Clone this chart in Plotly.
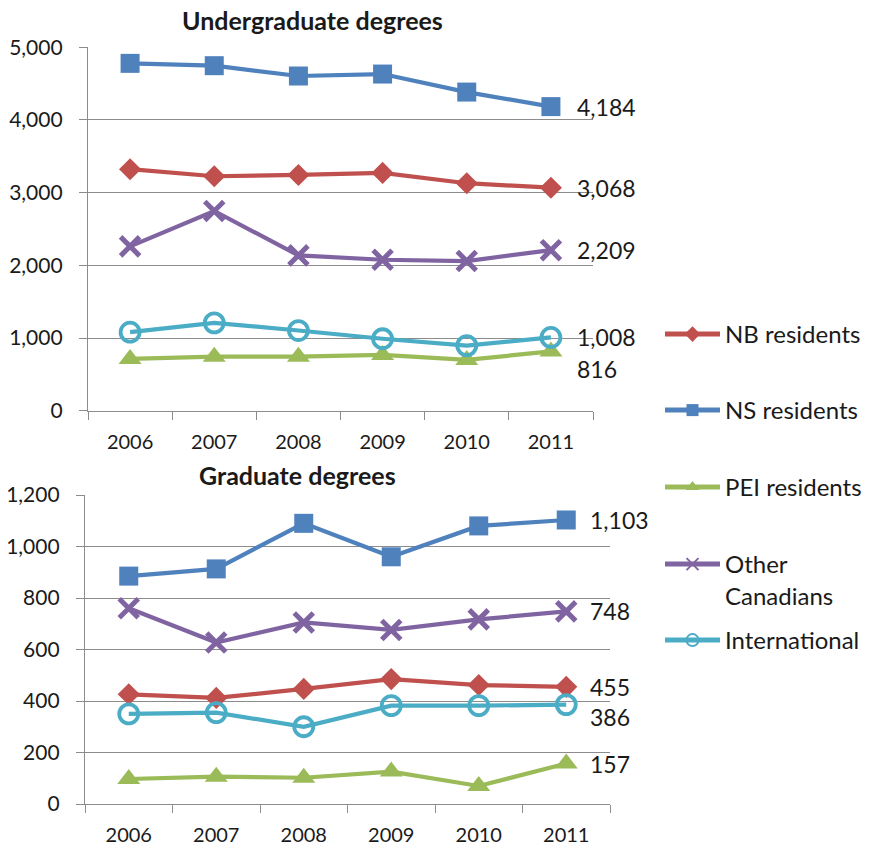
import plotly.graph_objects as go

years = ["2006", "2007", "2008", "2009", "2010", "2011"]

series_names = ["NB residents", "NS residents", "PEI residents", "Other<br>Canadians", "International"]

ug_nb = [3323, 3226, 3244, 3272, 3130, 3068]
ug_ns = [4779, 4747, 4605, 4632, 4384, 4184]
ug_pei = [712, 744, 744, 767, 699, 816]
ug_other = [2261, 2748, 2137, 2077, 2059, 2209]
ug_intl = [1080, 1209, 1103, 990, 896, 1008]

gr_nb = [426, 412, 447, 485, 462, 455]
gr_ns = [885, 913, 1090, 960, 1080, 1103]
gr_pei = [97, 106, 102, 126, 70, 157]
gr_other = [760, 627, 705, 676, 717, 748]
gr_intl = [350, 355, 300, 382, 382, 386]

ug_labels = ["3,068", "4,184", "816", "2,209", "1,008"]
gr_labels = ["455", "1,103", "157", "748", "386"]

colors = ["#C0504D", "#4F81BD", "#9BBB59", "#8064A2", "#4BACC6"]
symbols = ["diamond", "square", "triangle-up", "x-thin", "circle-open"]
sizes = [17, 19, 20, 19, 19]

W, H = 884, 846
FONT = "Lato"
TXT = "#1a1a1a"
GRID = "#8c8c8c"

fig = go.Figure()

ug = [ug_nb, ug_ns, ug_pei, ug_other, ug_intl]
gr = [gr_nb, gr_ns, gr_pei, gr_other, gr_intl]
legend_ids = ["legend", "legend2", "legend3", "legend4", "legend5"]


def marker(i):
    mk = dict(symbol=symbols[i], size=sizes[i], color=colors[i])
    if symbols[i] == "x-thin":
        mk["line"] = dict(color=colors[i], width=5)
    elif symbols[i] == "circle-open":
        mk["line"] = dict(color=colors[i], width=3.8)
    return mk


for i in range(5):
    fig.add_trace(go.Scatter(
        x=years, y=ug[i], name=series_names[i], mode="lines+markers",
        line=dict(color=colors[i], width=4.2), marker=marker(i),
        xaxis="x", yaxis="y", legend=legend_ids[i], showlegend=True,
        cliponaxis=False))
for i in range(5):
    fig.add_trace(go.Scatter(
        x=years, y=gr[i], name=series_names[i], mode="lines+markers",
        line=dict(color=colors[i], width=4.2), marker=marker(i),
        xaxis="x2", yaxis="y2", showlegend=False, cliponaxis=False))

# end labels (anchored at the last category, by index)
last = len(years) - 1
ug_yshift = [0, 0, -18, 0, 0]
gr_yshift = [0, 0, 0, 0, -12]
for i in range(5):
    fig.add_annotation(x=last, y=ug[i][-1], xref="x", yref="y",
                       text=ug_labels[i], showarrow=False, xanchor="left",
                       yanchor="middle", xshift=24, yshift=ug_yshift[i],
                       font=dict(family=FONT, size=23, color=TXT))
    fig.add_annotation(x=last, y=gr[i][-1], xref="x2", yref="y2",
                       text=gr_labels[i], showarrow=False, xanchor="left",
                       yanchor="middle", xshift=22, yshift=gr_yshift[i],
                       font=dict(family=FONT, size=23, color=TXT))

# titles
fig.add_annotation(x=312 / W, y=1 - 20 / H, xref="paper", yref="paper",
                   text="<b>Undergraduate degrees</b>", showarrow=False,
                   xanchor="center", yanchor="middle",
                   font=dict(family=FONT, size=25, color=TXT))
fig.add_annotation(x=297 / W, y=1 - 475 / H, xref="paper", yref="paper",
                   text="<b>Graduate degrees</b>", showarrow=False,
                   xanchor="center", yanchor="middle",
                   font=dict(family=FONT, size=25, color=TXT))

xax = dict(type="category", tickson="boundaries", ticks="outside", ticklen=8,
           tickcolor=GRID, showline=True, linecolor=GRID, linewidth=1.3,
           showgrid=False, range=[-0.5, 5.5], ticklabelstandoff=13,
           automargin=False,
           tickfont=dict(family=FONT, size=20, color=TXT), fixedrange=True)
yax = dict(ticks="outside", ticklen=8, tickcolor=GRID, showline=True,
           linecolor=GRID, linewidth=1.3, showgrid=True, gridcolor=GRID,
           gridwidth=1.3, zeroline=False, tickformat=",",
           ticklabelstandoff=12, automargin=False,
           tickfont=dict(family=FONT, size=21, color=TXT), fixedrange=True)

legend_y = [334, 410, 487, 564, 640]
legends = {}
for i, lid in enumerate(legend_ids):
    legends[lid] = dict(x=660 / W, xanchor="left",
                        y=1 - (legend_y[i] - 22) / H, yanchor="top",
                        bgcolor="rgba(0,0,0,0)", borderwidth=0,
                        itemsizing="constant", itemwidth=55, valign="top",
                        font=dict(family=FONT, size=24, color=TXT))

fig.update_layout(
    width=W, height=H, autosize=False,
    margin=dict(l=0, r=0, t=0, b=0, autoexpand=False),
    paper_bgcolor="white", plot_bgcolor="white",
    xaxis=dict(xax, domain=[88 / W, 593 / W], anchor="y"),
    yaxis=dict(yax, domain=[1 - 410.7 / H, 1 - 47.3 / H], range=[0, 5000],
               dtick=1000, anchor="x"),
    xaxis2=dict(xax, domain=[85 / W, 610 / W], anchor="y2"),
    yaxis2=dict(yax, domain=[1 - 804 / H, 1 - 495 / H], range=[0, 1200],
                dtick=200, anchor="x2"),
    **legends,
)

fig.write_html("out.html", config={"displayModeBar": False},
               post_script="document.body.style.margin='0';")
